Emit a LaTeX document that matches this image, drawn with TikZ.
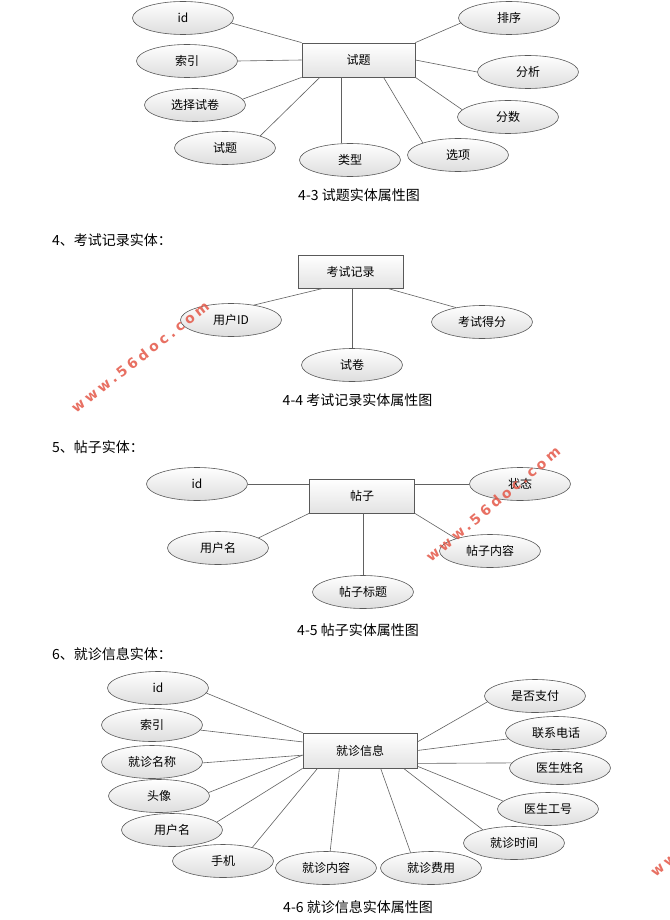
\documentclass[tikz,border=0pt]{standalone}
\usepackage{fontspec}
\setmainfont{Noto Sans CJK SC}
\newfontfamily\wmfont[LetterSpace=25]{DejaVu Sans Bold}
\usetikzlibrary{shapes.geometric,calc}
\begin{document}
\begin{tikzpicture}[x=1pt,y=-1pt,
  attr/.style={ellipse, draw=black!65, line width=0.6pt, top color=white, bottom color=black!13,
    minimum width=101pt, minimum height=33pt, inner sep=0pt, font=\fontsize{12}{12}\selectfont},
  ent/.style={rectangle, draw=black!65, line width=0.8pt, top color=white, bottom color=black!11,
    inner sep=0pt, font=\fontsize{12}{12}\selectfont},
  link/.style={draw=black!62, line width=0.6pt},
  captext/.style={inner sep=0pt, font=\fontsize{14}{14}\selectfont},
  headtext/.style={inner sep=0pt, anchor=west, font=\fontsize{14}{14}\selectfont},
  wm/.style={inner sep=0pt, text={rgb,255:red,228;green,88;blue,72}, opacity=0.85, font=\wmfont\fontsize{14}{14}\selectfont}]
\useasboundingbox (0,0) rectangle (669,920);
\clip (0,0) rectangle (669,920);
\fill[white] (0,0) rectangle (669,920);

% ---------- 4-3 ----------
\node[ent, minimum width=113pt, minimum height=34pt] (b1) at (358.5,60) {试题};
\node[attr] (a1id) at (183,18) {id};
\node[attr] (a1sy) at (187,61) {索引};
\node[attr] (a1xz) at (195,105) {选择试卷};
\node[attr] (a1st) at (225,148) {试题};
\node[attr] (a1lx) at (350,160) {类型};
\node[attr] (a1xx) at (458,155) {选项};
\node[attr] (a1fs) at (508,117) {分数};
\node[attr] (a1fx) at (528,72) {分析};
\node[attr] (a1px) at (509,18) {排序};
\node[captext] (c1) at (359,195) {4-3 试题实体属性图};
\draw[link] (a1id.-6) -- (b1.north west);
\draw[link] (a1sy.east) -- (b1.west);
\draw[link] (a1xz.7) -- (b1.south west);
\draw[link] (a1st.19) -- ($(b1.south west)!0.16!(b1.south east)$);
\draw[link] ($(b1.south west)!0.35!(b1.south east)$) coordinate (p1) -- (p1 |- a1lx.north);
\draw[link] (a1xx.161) -- ($(b1.south west)!0.72!(b1.south east)$);
\draw[link] (a1fs.171) -- (b1.south east);
\draw[link] (a1fx.west) -- (b1.east);
\draw[link] (a1px.186) -- (b1.north east);

% ---------- 4-4 ----------
\node[headtext] (h4) at (52,240) {4、考试记录实体：};
\node[ent, minimum width=105pt, minimum height=33pt] (b2) at (350.5,271.5) {考试记录};
\node[attr] (a2yh) at (231,320) {用户ID};
\node[attr] (a2sj) at (352,365) {试卷};
\node[attr] (a2df) at (482,322) {考试得分};
\node[captext] (c2) at (357.5,400) {4-4 考试记录实体属性图};
\draw[link] (a2yh.33) -- ($(b2.south west)!0.24!(b2.south east)$);
\draw[link] (a2sj.north) -- (a2sj.north |- b2.south);
\draw[link] (a2df.151) -- ($(b2.south west)!0.85!(b2.south east)$);

% ---------- 4-5 ----------
\node[headtext] (h5) at (52,447) {5、帖子实体：};
\node[ent, minimum width=105pt, minimum height=34pt] (b3) at (362,496) {帖子};
\node[attr] (a3id) at (197,484) {id};
\node[attr] (a3zt) at (520,484) {状态};
\node[attr] (a3yh) at (218,548) {用户名};
\node[attr] (a3bt) at (363,592) {帖子标题};
\node[attr] (a3nr) at (490,551) {帖子内容};
\node[captext] (c3) at (358,630) {4-5 帖子实体属性图};
\draw[link] (a3id.east) -- (a3id.east -| b3.west);
\draw[link] (a3zt.west) -- (a3zt.west -| b3.east);
\draw[link] (a3yh.14) -- (b3.south west);
\draw[link] (a3bt.north) -- (a3bt.north |- b3.south);
\draw[link] (a3nr.160) -- (b3.south east);

% ---------- 4-6 ----------
\node[headtext] (h6) at (52,654) {6、就诊信息实体：};
\node[ent, minimum width=114pt, minimum height=35pt] (b4) at (360,750.5) {就诊信息};
\node[attr] (a4id) at (158,688) {id};
\node[attr] (a4sy) at (152,725) {索引};
\node[attr] (a4mc) at (152,762) {就诊名称};
\node[attr] (a4tx) at (159,796) {头像};
\node[attr] (a4yh) at (172,830) {用户名};
\node[attr] (a4sj) at (223,861) {手机};
\node[attr] (a4nr) at (326,868) {就诊内容};
\node[attr] (a4fy) at (431,868) {就诊费用};
\node[attr] (a4sh) at (514,843) {就诊时间};
\node[attr] (a4gh) at (548,809) {医生工号};
\node[attr] (a4xm) at (560,768) {医生姓名};
\node[attr] (a4dh) at (556,733) {联系电话};
\node[attr] (a4zf) at (535,696) {是否支付};
\node[captext] (c4) at (358,907) {4-6 就诊信息实体属性图};
\draw[link] (a4id.-6) -- (b4.north west);
\draw[link] (a4sy.-6) -- ($(b4.north west)!0.26!(b4.south west)$);
\draw[link] (a4mc.-1) -- ($(b4.north west)!0.63!(b4.south west)$);
\draw[link] (a4tx.4) -- ($(b4.north west)!0.63!(b4.south west)$);
\draw[link] (a4yh.10) -- (b4.south west);
\draw[link] (a4sj.25) -- ($(b4.south west)!0.13!(b4.south east)$);
\draw[link] (a4nr.76) -- ($(b4.south west)!0.32!(b4.south east)$);
\draw[link] (a4fy.143) -- ($(b4.south west)!0.68!(b4.south east)$);
\draw[link] (a4sh.157) -- ($(b4.south west)!0.88!(b4.south east)$);
\draw[link] (a4gh.170) -- ($(b4.north east)!0.94!(b4.south east)$);
\draw[link] (a4xm.174) -- ($(b4.north east)!0.86!(b4.south east)$);
\draw[link] (a4dh.187) -- (b4.east);
\draw[link] (a4zf.187) -- ($(b4.north east)!0.26!(b4.south east)$);

% ---------- watermarks ----------
\node[wm, rotate=38] (w1) at (140,357) {www.56doc.com};
\node[wm, rotate=40] (w2) at (493,504) {www.56doc.com};
\node[wm, rotate=40, anchor=west] (w3) at (652,874) {www.56doc.com};
\end{tikzpicture}
\end{document}
